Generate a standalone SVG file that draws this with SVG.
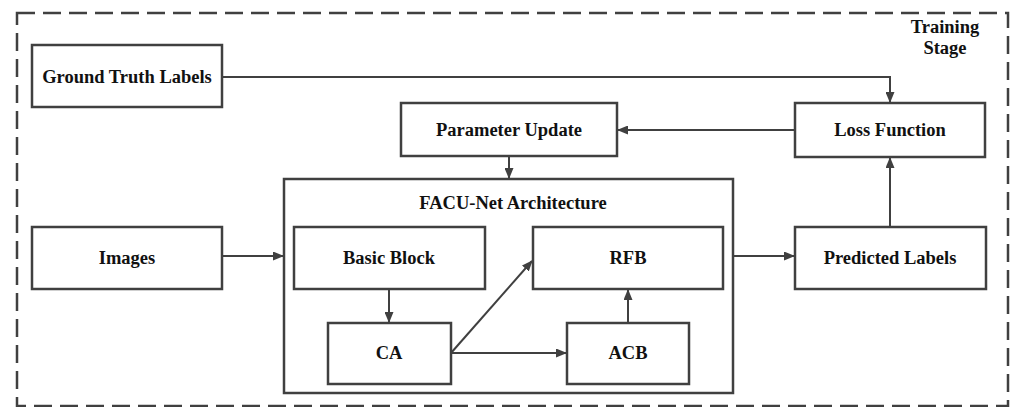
<svg xmlns="http://www.w3.org/2000/svg" width="1011" height="407" viewBox="0 0 1011 407">
  <style>
    .box { fill: #fff; stroke: #404040; stroke-width: 2.5; }
    .frame { fill: none; stroke: #404040; stroke-width: 2.5; }
    .lbl { font-family: "Liberation Serif", "Times New Roman", serif; font-weight: bold; font-size: 18.5px; fill: #111; text-anchor: middle; dominant-baseline: central; }
    .wire { fill: none; stroke: #404040; stroke-width: 2; marker-end: url(#ah); }
    .border { fill: none; stroke: #404040; stroke-width: 2.5; stroke-dasharray: 18 8; }
  </style>
  <defs>
    <marker id="ah" markerWidth="11" markerHeight="9" refX="10" refY="4.5" orient="auto" markerUnits="userSpaceOnUse">
      <path d="M0,0 L11,4.5 L0,9 Z" fill="#404040"/>
    </marker>
  </defs>
  <rect width="1011" height="407" fill="#fff"/>

  <!-- training stage boundary -->
  <rect class="border" x="17" y="13" width="991" height="393"/>
  <text class="lbl" x="945" y="27">Training</text>
  <text class="lbl" x="945" y="48">Stage</text>

  <g id="ground-truth">
    <rect class="box" x="32" y="45" width="190" height="62"/>
    <text class="lbl" x="127" y="77">Ground Truth Labels</text>
  </g>
  <g id="parameter-update">
    <rect class="box" x="401" y="103" width="216" height="53"/>
    <text class="lbl" x="509" y="130">Parameter Update</text>
  </g>
  <g id="loss-function">
    <rect class="box" x="795" y="103" width="190" height="54"/>
    <text class="lbl" x="890" y="130">Loss Function</text>
  </g>
  <g id="images">
    <rect class="box" x="32" y="227" width="190" height="62"/>
    <text class="lbl" x="127" y="258">Images</text>
  </g>
  <g id="facu-net">
    <rect class="frame" x="284" y="179" width="449" height="214"/>
    <text class="lbl" x="513" y="203">FACU-Net Architecture</text>
  </g>
  <g id="basic-block">
    <rect class="box" x="294" y="227" width="191" height="62"/>
    <text class="lbl" x="389" y="258">Basic Block</text>
  </g>
  <g id="rfb">
    <rect class="box" x="533" y="227" width="190" height="62"/>
    <text class="lbl" x="628" y="258">RFB</text>
  </g>
  <g id="ca">
    <rect class="box" x="328" y="323" width="123" height="61"/>
    <text class="lbl" x="389" y="353">CA</text>
  </g>
  <g id="acb">
    <rect class="box" x="567" y="323" width="122" height="61"/>
    <text class="lbl" x="628" y="353">ACB</text>
  </g>
  <g id="predicted-labels">
    <rect class="box" x="795" y="227" width="191" height="62"/>
    <text class="lbl" x="890" y="258">Predicted Labels</text>
  </g>

  <g id="connectors">
    <polyline class="wire" points="222,77 890,77 890,102"/>
    <line class="wire" x1="795" y1="130" x2="618" y2="130"/>
    <line class="wire" x1="509" y1="156" x2="509" y2="178"/>
    <line class="wire" x1="222" y1="256" x2="283" y2="256"/>
    <line class="wire" x1="733" y1="256" x2="794" y2="256"/>
    <line class="wire" x1="890" y1="227" x2="890" y2="158"/>
    <line class="wire" x1="389" y1="289" x2="389" y2="322"/>
    <line class="wire" x1="451" y1="353" x2="532" y2="261"/>
    <line class="wire" x1="451" y1="353" x2="566" y2="353"/>
    <line class="wire" x1="628" y1="323" x2="628" y2="290"/>
  </g>
</svg>
